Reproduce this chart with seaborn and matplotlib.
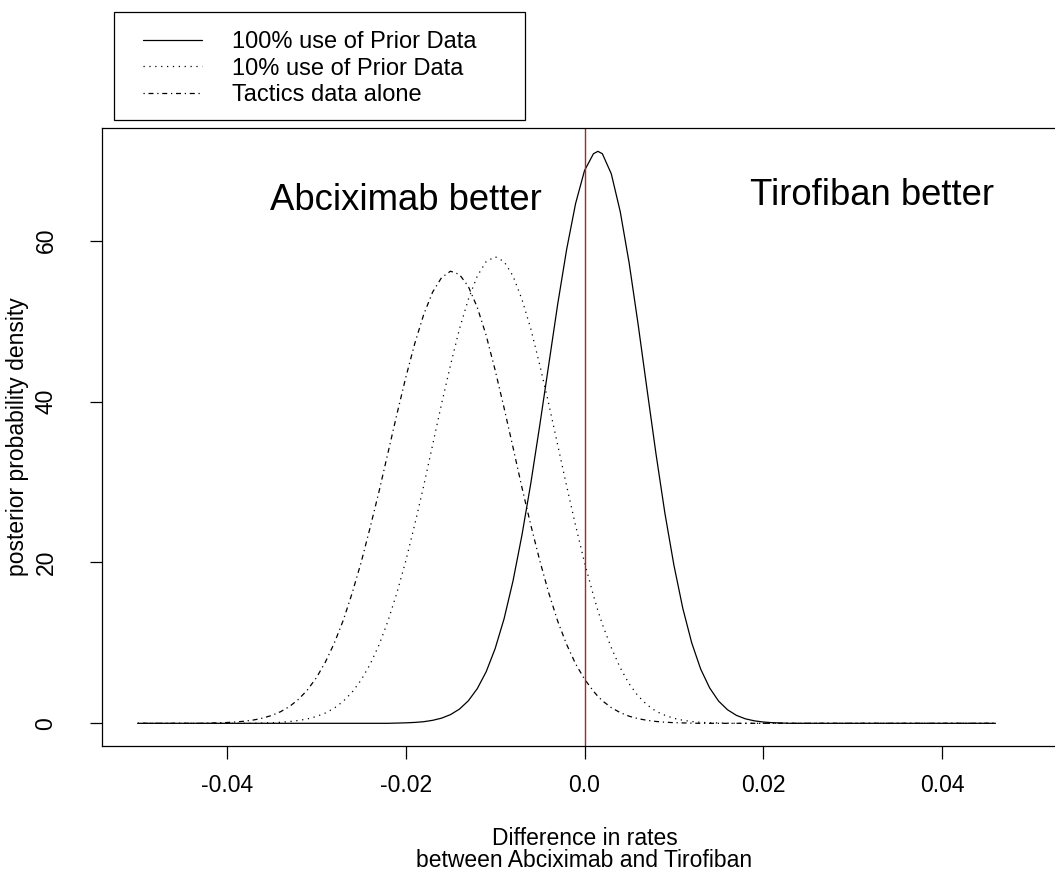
import matplotlib
matplotlib.use("Agg")
import matplotlib.pyplot as plt
from matplotlib.patches import Rectangle
import seaborn as sns

# difference in rates (x grid of the posterior curves)
diff_rates = [
    -0.050, -0.049, -0.048, -0.047, -0.046, -0.045, -0.044, -0.043, -0.042, -0.041,
    -0.040, -0.039, -0.038, -0.037, -0.036, -0.035, -0.034, -0.033, -0.032, -0.031,
    -0.030, -0.029, -0.028, -0.027, -0.026, -0.025, -0.024, -0.023, -0.022, -0.021,
    -0.020, -0.019, -0.018, -0.017, -0.016, -0.015, -0.014, -0.013, -0.012, -0.011,
    -0.010, -0.009, -0.008, -0.007, -0.006, -0.005, -0.004, -0.003, -0.002, -0.001,
    0.000, 0.001, 0.0015, 0.002, 0.003, 0.004, 0.005, 0.006, 0.007, 0.008, 0.009,
    0.010, 0.011, 0.012, 0.013, 0.014, 0.015, 0.016, 0.017, 0.018, 0.019,
    0.020, 0.021, 0.022, 0.023, 0.024, 0.025, 0.026, 0.027, 0.028, 0.029,
    0.030, 0.031, 0.032, 0.033, 0.034, 0.035, 0.036, 0.037, 0.038, 0.039,
    0.040, 0.041, 0.042, 0.043, 0.044, 0.045, 0.046,
]

# posterior density, 100% use of prior data
full_prior = [
    0, 0, 0, 0, 0, 0, 0, 0, 0, 0,
    0, 0, 0, 0, 0, 0, 0, 0, 0, 0,
    0, 0, 0, 0, 0, 0, 0, 0, 0, 0.03,
    0.06, 0.11, 0.20, 0.37, 0.64, 1.08, 1.76, 2.80, 4.31, 6.42,
    9.29, 13.0, 17.7, 23.4, 29.9, 37.1, 44.6, 52.1, 58.9, 64.6,
    68.7, 70.8, 71.1, 70.8, 68.3, 63.6, 57.2, 49.6, 41.5, 33.5, 26.1,
    19.7, 14.3, 10.0, 6.75, 4.41, 2.77, 1.69, 0.99, 0.56, 0.31,
    0.16, 0.08, 0.04, 0, 0, 0, 0, 0, 0, 0,
    0, 0, 0, 0, 0, 0, 0, 0, 0, 0,
    0, 0, 0, 0, 0, 0, 0,
]

# posterior density, 10% use of prior data
tenth_prior = [
    0, 0, 0, 0, 0, 0, 0, 0, 0, 0,
    0, 0, 0, 0, 0.04, 0.07, 0.13, 0.22, 0.35, 0.55,
    0.85, 1.28, 1.89, 2.74, 3.88, 5.38, 7.32, 9.73, 12.7, 16.2,
    20.2, 24.7, 29.5, 34.6, 39.7, 44.5, 49.0, 52.7, 55.6, 57.4,
    58.0, 57.4, 55.6, 52.7, 49.0, 44.5, 39.7, 34.6, 29.5, 24.6,
    20.0, 15.9, 14.0, 12.3, 9.4, 6.9, 4.9, 3.4, 2.3, 1.5, 1.0,
    0.62, 0.38, 0.22, 0.12, 0.07, 0.04, 0.02, 0, 0, 0,
    0, 0, 0, 0, 0, 0, 0, 0, 0, 0,
    0, 0, 0, 0, 0, 0, 0, 0, 0, 0,
    0, 0, 0, 0, 0, 0, 0,
]

# posterior density, Tactics data alone
tactics_only = [
    0, 0, 0, 0, 0, 0, 0, 0, 0.03, 0.06,
    0.10, 0.17, 0.27, 0.42, 0.65, 0.98, 1.45, 2.10, 2.99, 4.16,
    5.68, 7.61, 9.98, 12.8, 16.2, 20.0, 24.3, 28.8, 33.6, 38.4,
    43.0, 47.2, 50.8, 53.6, 55.4, 56.2, 55.8, 54.3, 51.7, 48.2,
    43.9, 39.2, 34.3, 29.3, 24.6, 20.2, 16.2, 12.7, 9.8, 7.4,
    5.5, 4.0, 3.35, 2.8, 1.95, 1.33, 0.88, 0.58, 0.37, 0.23, 0.14,
    0.08, 0.05, 0.02, 0, 0, 0, 0, 0, 0, 0,
    0, 0, 0, 0, 0, 0, 0, 0, 0, 0,
    0, 0, 0, 0, 0, 0, 0, 0, 0, 0,
    0, 0, 0, 0, 0, 0, 0,
]

series_labels = ["100% use of Prior Data", "10% use of Prior Data", "Tactics data alone"]
x_ticks = [-0.04, -0.02, 0.0, 0.02, 0.04]
x_tick_labels = ["-0.04", "-0.02", "0.0", "0.02", "0.04"]
y_ticks = [0, 20, 40, 60]

sns.set_theme(style="white")
plt.rcParams["font.family"] = ["Liberation Sans", "DejaVu Sans"]
plt.rcParams["axes.unicode_minus"] = False
plt.rcParams["text.color"] = "black"
plt.rcParams["axes.labelcolor"] = "black"

fig = plt.figure(figsize=(10.55, 8.73), dpi=100)
# plot region is wider than the picture on the right (as in the source)
ax = fig.add_axes([102 / 1055, 127 / 873, 965 / 1055, 618 / 873])

sns.lineplot(x=diff_rates, y=full_prior, ax=ax, color="black", lw=0.9,
             linestyle="-", label=series_labels[0])
sns.lineplot(x=diff_rates, y=tenth_prior, ax=ax, color="black", lw=0.9,
             linestyle=(0, (1, 3.7)), label=series_labels[1])
sns.lineplot(x=diff_rates, y=tactics_only, ax=ax, color="black", lw=0.9,
             linestyle=(0, (1, 3, 4, 3)), label=series_labels[2])

ax.axvline(0, color="#A82828", lw=1.0)

ax.set_xlim(-0.054, 0.054)
ax.set_ylim(-2.82, 74.0)
ax.set_xticks(x_ticks)
ax.set_xticklabels(x_tick_labels)
ax.set_yticks(y_ticks)
ax.tick_params(axis="both", direction="out", length=9, width=0.9, color="black",
               labelsize=16.5, labelcolor="black", bottom=True, left=True)
ax.tick_params(axis="x", pad=11)
ax.tick_params(axis="y", pad=23, labelrotation=90)
for lab in ax.get_yticklabels():
    lab.set_va("center")

for sp in ax.spines.values():
    sp.set_color("black")
    sp.set_linewidth(0.9)

ax.set_xlabel("Difference in rates\nbetween Abciximab and Tirofiban", fontsize=16.5,
              linespacing=0.95, labelpad=22)
ax.set_ylabel("posterior probability density", fontsize=16.5, labelpad=4)

ax.text(-0.0200, 63.8, "Abciximab better", fontsize=26.3, ha="center", va="baseline")
ax.text(0.0322, 64.4, "Tirofiban better", fontsize=26.3, ha="center", va="baseline")

leg = ax.legend(loc="upper left", bbox_to_anchor=(143 / 1055, 1 - 31 / 873),
                bbox_transform=fig.transFigure, frameon=False, borderpad=0,
                borderaxespad=0, handlelength=2.5, handletextpad=1.27,
                labelspacing=0.2, fontsize=17)
fig.add_artist(Rectangle((114 / 1055, 1 - 120 / 873), (525 - 114) / 1055, 108 / 873,
                         transform=fig.transFigure, fill=False, ec="black", lw=0.9))

fig.savefig("out.png", dpi=100)
